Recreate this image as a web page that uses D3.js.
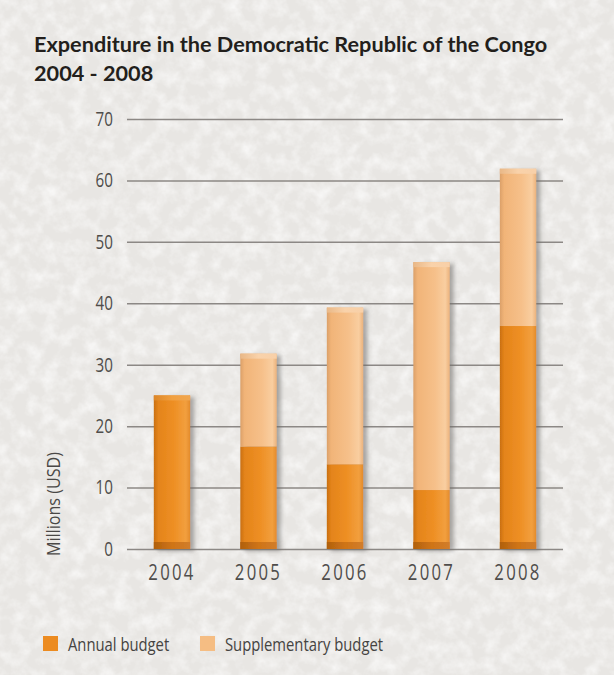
<!DOCTYPE html>
<html>
<head>
<meta charset="utf-8">
<script src="https://cdn.jsdelivr.net/npm/d3@7"></script>
<style>
  body { margin: 0; background: #ebe9e6; }
  svg { display: block; }
  .narrow { font-family: "Open Sans", "DejaVu Sans", sans-serif; }
</style>
</head>
<body>
<div id="chart"></div>
<script>
// data
var years = ['2004', '2005', '2006', '2007', '2008'];
var annual = [25, 16.7, 13.8, 9.6, 36.3];
var supplementary = [0, 15.1, 25.5, 37.1, 25.6];
var yTicks = [0, 10, 20, 30, 40, 50, 60, 70];
var seriesKeys = ['annual', 'supplementary'];
var seriesNames = ['Annual budget', 'Supplementary budget'];
var seriesColors = ['#ec8b20', '#f5bd83'];
var titleLines = ['Expenditure in the Democratic Republic of the Congo', '2004 - 2008'];
var yLabel = 'Millions (USD)';

var width = 614, height = 675;
var squeeze = 0.76; // no condensed face installed, so text is narrowed by hand

var svg = d3.select('#chart').append('svg')
    .attr('width', width)
    .attr('height', height);

var defs = svg.append('defs');

// paper texture
var paper = defs.append('filter').attr('id', 'paper')
    .attr('x', 0).attr('y', 0).attr('width', '100%').attr('height', '100%');
paper.append('feTurbulence')
    .attr('type', 'fractalNoise')
    .attr('baseFrequency', 0.07)
    .attr('numOctaves', 4)
    .attr('seed', 7);
paper.append('feColorMatrix')
    .attr('type', 'matrix')
    .attr('values', '0 0 0 0 1  0 0 0 0 1  0 0 0 0 1  1.3 0 0 0 -0.5');

var shadow = defs.append('filter').attr('id', 'shadow')
    .attr('x', '-20%').attr('y', '-5%').attr('width', '150%').attr('height', '115%');
shadow.append('feDropShadow')
    .attr('dx', 4).attr('dy', 2)
    .attr('stdDeviation', 2.2)
    .attr('flood-color', '#6d6a66')
    .attr('flood-opacity', 0.55);

function hGradient(id, stops) {
  var g = defs.append('linearGradient').attr('id', id)
      .attr('x1', 0).attr('x2', 1).attr('y1', 0).attr('y2', 0);
  stops.forEach(function (s) {
    g.append('stop').attr('offset', s[0]).attr('stop-color', s[1]);
  });
}
hGradient('g-annual', [[0, '#c96f10'], [0.12, '#e4841a'], [0.55, '#ee8f24'], [0.88, '#f29f3e'], [1, '#e38b2c']]);
hGradient('g-supplementary', [[0, '#dba069'], [0.12, '#f1b478'], [0.6, '#f6c08a'], [0.88, '#f9cea0'], [1, '#ebb27c']]);
hGradient('g-base', [[0, '#b0600e'], [0.5, '#cf7416'], [1, '#d17d2c']]);
hGradient('g-top-annual', [[0, '#dc8628'], [0.5, '#f1a040'], [1, '#f0a650']]);
hGradient('g-top-supplementary', [[0, '#e9b887'], [0.5, '#f9d2aa'], [1, '#f8d0a8']]);

svg.append('rect').attr('width', width).attr('height', height).attr('fill', '#e8e6e3');
svg.append('rect').attr('width', width).attr('height', height).attr('filter', 'url(#paper)');

// scales
var x = d3.scaleBand()
    .domain(years)
    .range([127, 563])
    .paddingInner(0.58)
    .paddingOuter(0.31);

var y = d3.scaleLinear()
    .domain([0, 70])
    .range([549, 119]);

// title
svg.append('g').selectAll('text')
    .data(titleLines)
    .join('text')
    .attr('x', 34)
    .attr('y', function (d, i) { return 52 + i * 29; })
    .attr('font-family', 'Lato, "Open Sans", sans-serif')
    .attr('font-weight', 'bold')
    .attr('font-size', 21.7)
    .attr('fill', '#231f1c')
    .text(function (d) { return d; });

// grid + y axis
var yAxis = d3.axisLeft(y)
    .tickValues(yTicks)
    .tickSize(-(563 - 127))
    .tickPadding(14);

var gy = svg.append('g')
    .attr('transform', 'translate(127,0)')
    .call(yAxis);
gy.select('.domain').remove();
gy.selectAll('.tick line')
    .attr('stroke', '#8c8885')
    .attr('stroke-width', 1.5);
gy.selectAll('.tick text')
    .attr('class', 'narrow')
    .attr('font-family', null)
    .attr('font-size', 20)
    .attr('x', -14 / squeeze)
    .attr('transform', 'scale(' + squeeze + ',1)')
    .attr('fill', '#4f4d4b');

// stacked bars
var rows = years.map(function (yr, i) {
  return { year: yr, annual: annual[i], supplementary: supplementary[i] };
});
var stacked = d3.stack().keys(seriesKeys)(rows);

var bars = svg.append('g').attr('filter', 'url(#shadow)');

bars.selectAll('g.series')
    .data(stacked)
    .join('g')
    .attr('class', 'series')
    .attr('fill', function (d) { return 'url(#g-' + d.key + ')'; })
    .selectAll('rect')
    .data(function (d) { return d.filter(function (p) { return p[1] > p[0]; }); })
    .join('rect')
    .attr('x', function (d) { return x(d.data.year); })
    .attr('width', x.bandwidth())
    .attr('y', function (d) { return y(d[1]); })
    .attr('height', function (d) { return y(d[0]) - y(d[1]); });

// darker base strip
bars.selectAll('rect.base')
    .data(rows)
    .join('rect')
    .attr('class', 'base')
    .attr('x', function (d) { return x(d.year); })
    .attr('width', x.bandwidth())
    .attr('y', y(0) - 7)
    .attr('height', 7)
    .attr('fill', 'url(#g-base)');

// lighter top cap on each bar
bars.selectAll('rect.cap')
    .data(rows)
    .join('rect')
    .attr('class', 'cap')
    .attr('x', function (d) { return x(d.year); })
    .attr('width', x.bandwidth())
    .attr('y', function (d) { return y(d.annual + d.supplementary); })
    .attr('height', 5)
    .attr('fill', function (d) {
      return d.supplementary > 0 ? 'url(#g-top-supplementary)' : 'url(#g-top-annual)';
    });

// x axis labels
var xAxis = d3.axisBottom(x).tickSize(0).tickPadding(14);
var gx = svg.append('g')
    .attr('transform', 'translate(0,' + y(0) + ')')
    .call(xAxis);
gx.select('.domain').remove();
gx.selectAll('.tick text')
    .attr('class', 'narrow')
    .attr('font-family', null)
    .attr('font-size', 22)
    .attr('dy', null)
    .attr('y', 31)
    .attr('letter-spacing', 3)
    .attr('transform', 'scale(' + squeeze + ',1)')
    .attr('fill', '#4f4d4b');

// y label
svg.append('text')
    .attr('class', 'narrow')
    .attr('transform', 'translate(60,504) rotate(-90) scale(0.85,1)')
    .attr('text-anchor', 'middle')
    .attr('font-size', 19)
    .attr('fill', '#4a4846')
    .text(yLabel);

// legend
var legendX = [43, 200];
var legend = svg.append('g').selectAll('g')
    .data(seriesNames)
    .join('g')
    .attr('transform', function (d, i) { return 'translate(' + legendX[i] + ',636)'; });
legend.append('rect')
    .attr('width', 15)
    .attr('height', 15)
    .attr('fill', function (d, i) { return seriesColors[i]; });
legend.append('text')
    .attr('class', 'narrow')
    .attr('x', 25 / 0.78)
    .attr('y', 15)
    .attr('transform', 'scale(0.78,1)')
    .attr('font-size', 19)
    .attr('fill', '#454341')
    .text(function (d) { return d; });
</script>
</body>
</html>
